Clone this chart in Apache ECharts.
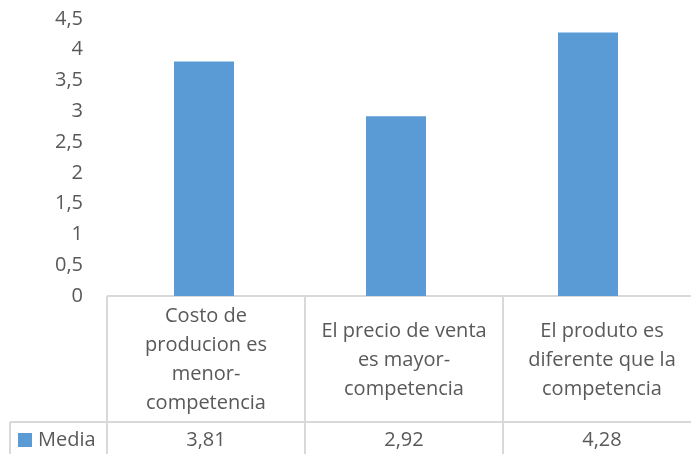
<!DOCTYPE html>
<html>
<head>
<meta charset="utf-8">
<script src="https://cdn.jsdelivr.net/npm/echarts@6/dist/echarts.min.js"></script>
<style>
  html, body { margin: 0; padding: 0; background: #ffffff; }
  #chart { width: 691px; height: 454px; }
</style>
</head>
<body>
<div id="chart"></div>
<script>
// Categories (line breaks as they wrap inside the data table cells)
var categories = [
  'Costo de\nproducion es\nmenor-\ncompetencia',
  'El precio de venta\nes mayor-\ncompetencia',
  'El produto es\ndiferente que la\ncompetencia'
];
var seriesName = 'Media';
var mediaValues = [3.81, 2.92, 4.28];
var yTicks = { min: 0, max: 4.5, step: 0.5 };

var FONT = '"Open Sans", sans-serif';
var TEXT = '#595959';
var LINE = '#d9d9d9';
var BAR = '#5b9bd5';

function fmt(v, digits) {
  return (digits == null ? String(v) : v.toFixed(digits)).replace('.', ',');
}

var chart = echarts.init(document.getElementById('chart'), null, { renderer: 'canvas', width: 691, height: 454 });

// Data table layout under the plot
var tableTop = 296, rowSplit = 422, tableBottom = 454;
var colLeft = 107, colWidth = 198;
var headerLeft = 10;

var graphics = [];
function hline(x1, x2, y) {
  graphics.push({ type: 'line', silent: true, shape: { x1: x1, y1: y, x2: x2, y2: y },
    style: { stroke: LINE, lineWidth: 2 } });
}
function vline(x, y1, y2) {
  graphics.push({ type: 'line', silent: true, shape: { x1: x, y1: y1, x2: x, y2: y2 },
    style: { stroke: LINE, lineWidth: 2 } });
}
hline(colLeft, 691, tableTop);
hline(headerLeft, 691, rowSplit);
vline(headerLeft, rowSplit, tableBottom);
for (var i = 0; i <= categories.length; i++) {
  vline(colLeft + i * colWidth, tableTop, tableBottom);
}
categories.forEach(function (name, i) {
  var cx = colLeft + (i + 0.5) * colWidth;
  graphics.push({ type: 'text', silent: true, x: cx, y: (tableTop + rowSplit) / 2 + 1,
    style: { text: name, fill: TEXT, font: '20px ' + FONT, align: 'center', verticalAlign: 'middle', lineHeight: 29 } });
  graphics.push({ type: 'text', silent: true, x: cx, y: 440,
    style: { text: fmt(mediaValues[i], 2), fill: TEXT, font: '20px ' + FONT, align: 'center', verticalAlign: 'middle' } });
});
// Legend key in the row header
graphics.push({ type: 'rect', silent: true, shape: { x: 18, y: 433, width: 14, height: 14 }, style: { fill: BAR } });
graphics.push({ type: 'text', silent: true, x: 38, y: 440,
  style: { text: seriesName, fill: TEXT, font: '20px ' + FONT, align: 'left', verticalAlign: 'middle' } });

chart.setOption({
  animation: false,
  backgroundColor: '#ffffff',
  grid: { left: 108, right: 7, top: 19, bottom: 454 - tableTop, containLabel: false },
  xAxis: {
    type: 'category',
    data: categories,
    axisLine: { show: false },
    axisTick: { show: false },
    axisLabel: { show: false },
    splitLine: { show: false }
  },
  yAxis: {
    type: 'value',
    min: yTicks.min,
    max: yTicks.max,
    interval: yTicks.step,
    axisLine: { show: false },
    axisTick: { show: false },
    splitLine: { show: false },
    axisLabel: {
      color: TEXT,
      fontFamily: FONT,
      fontSize: 20,
      margin: 25,
      formatter: function (v) { return fmt(v); }
    }
  },
  series: [{
    name: seriesName,
    type: 'bar',
    data: mediaValues,
    barWidth: 60,
    itemStyle: { color: BAR }
  }],
  graphic: graphics
});
</script>
</body>
</html>
